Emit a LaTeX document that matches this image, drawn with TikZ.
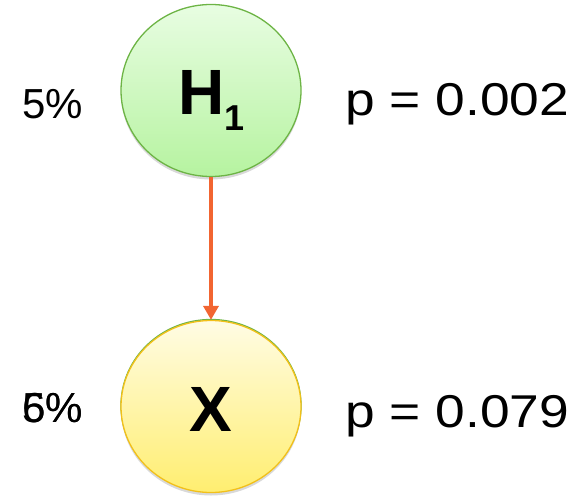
\documentclass[tikz,border=0pt]{standalone}
\usepackage{fontspec}
\setmainfont{Liberation Sans}
\usetikzlibrary{shadows,arrows.meta,shapes.geometric}
\definecolor{hgreenT}{HTML}{E8FDE2}
\definecolor{hgreenB}{HTML}{B6F3A0}
\definecolor{hgreenL}{HTML}{6DB445}
\definecolor{xyelT}{HTML}{FFFCE4}
\definecolor{xyelB}{HTML}{FFEE70}
\definecolor{xyelL}{HTML}{F2C01A}
\definecolor{arr}{HTML}{F26531}
\tikzset{
  circ/.style={ellipse,minimum width=180pt,minimum height=172pt,line width=1.3pt,
    drop shadow={shadow xshift=0pt,shadow yshift=-3pt,opacity=0.25,fill=black!60}},
  lbl/.style={anchor=base west,inner sep=0pt,font=\fontsize{#1}{#1}\selectfont},
}
\begin{document}
\begin{tikzpicture}[x=1pt,y=1pt]
\useasboundingbox (0,0) rectangle (585,496);
\node[circ,draw=hgreenL,top color=hgreenT,bottom color=hgreenB] (h) at (211,405.5) {};
\node[ellipse,minimum width=180pt,minimum height=172pt,draw=hgreenL,line width=1.3pt] (xg) at (211,90.5) {};
\node[circ,draw=xyelL,top color=xyelT,bottom color=xyelB] (x) at (211,89.5) {};
\node[anchor=base west,inner sep=0pt] (ht) at (178,381) {\fontsize{64}{64}\selectfont\bfseries H\raisebox{-16pt}{\fontsize{36}{36}\selectfont 1}};
\node[anchor=base,inner sep=0pt] (xt) at (211,65) {\fontsize{64}{64}\selectfont\bfseries X};
\draw[arr,line width=3.6pt,-{Triangle[width=15pt,length=14pt]}] (h.south) -- (x.north);
\node[lbl=42] (p1) at (22,377) {5\%};
\node[lbl=42] (p2a) at (22,74) {5\%};
\node[lbl=42] (p2b) at (22,74) {6\%};
\node[lbl=46] (q1) at (345,380) {\scalebox{1.16}[1]{p = 0.002}};
\node[lbl=46] (q2) at (345,69) {\scalebox{1.16}[1]{p = 0.079}};
\end{tikzpicture}
\end{document}
